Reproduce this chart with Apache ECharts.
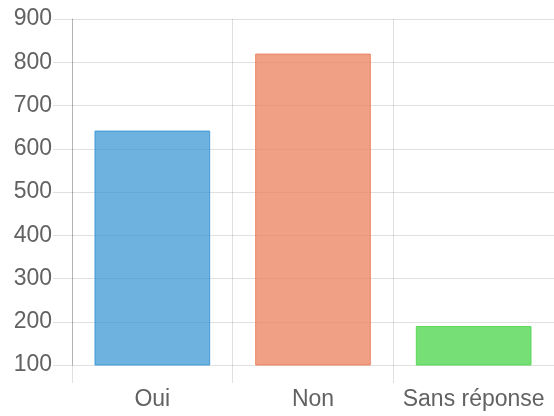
<!DOCTYPE html>
<html><head><meta charset="utf-8">
<script src="https://cdn.jsdelivr.net/npm/echarts@6/dist/echarts.min.js"></script>
<style>html,body{margin:0;padding:0;background:#fff}#c{width:554px;height:416px}</style>
</head><body><div id="c"></div>
<script>
const categories = ['Oui', 'Non', 'Sans réponse'];
const values = [642, 820, 190];
const fillColors = ['rgba(54,150,212,0.72)', 'rgba(234,128,92,0.75)', 'rgba(80,214,80,0.78)'];
const borderColors = ['rgba(54,150,212,0.9)', 'rgba(234,128,92,0.9)', 'rgba(80,214,80,0.9)'];
const yMin = 100, yMax = 900, yStep = 100;

const chart = echarts.init(document.getElementById('c'), null, {renderer: 'canvas'});
const gridColor = 'rgba(0,0,0,0.12)';
chart.setOption({
  animation: false,
  grid: {left: 72, right: -1, top: 19, bottom: 51},
  xAxis: {
    type: 'category', data: categories, boundaryGap: true,
    axisLine: {show: false},
    axisTick: {show: true, interval: 0, length: 18, lineStyle: {color: gridColor}},
    splitLine: {show: true, interval: 0, lineStyle: {color: gridColor}},
    axisLabel: {interval: 0, color: '#626262', fontFamily: 'Liberation Sans, Helvetica, Arial', fontSize: 23, margin: 23}
  },
  yAxis: {
    type: 'value', min: yMin, max: yMax, interval: yStep,
    axisLine: {show: true, lineStyle: {color: 'rgba(0,0,0,0.2)'}},
    axisTick: {show: true, length: 19, lineStyle: {color: gridColor}},
    splitLine: {show: true, lineStyle: {color: gridColor}},
    axisLabel: {color: '#626262', fontFamily: 'Liberation Sans, Helvetica, Arial', fontSize: 23, margin: 20}
  },
  series: [{
    type: 'bar', barWidth: '72%',
    data: values.map((v, i) => ({value: v, itemStyle: {color: fillColors[i], borderColor: borderColors[i], borderWidth: 1}}))
  }]
});
</script></body></html>
